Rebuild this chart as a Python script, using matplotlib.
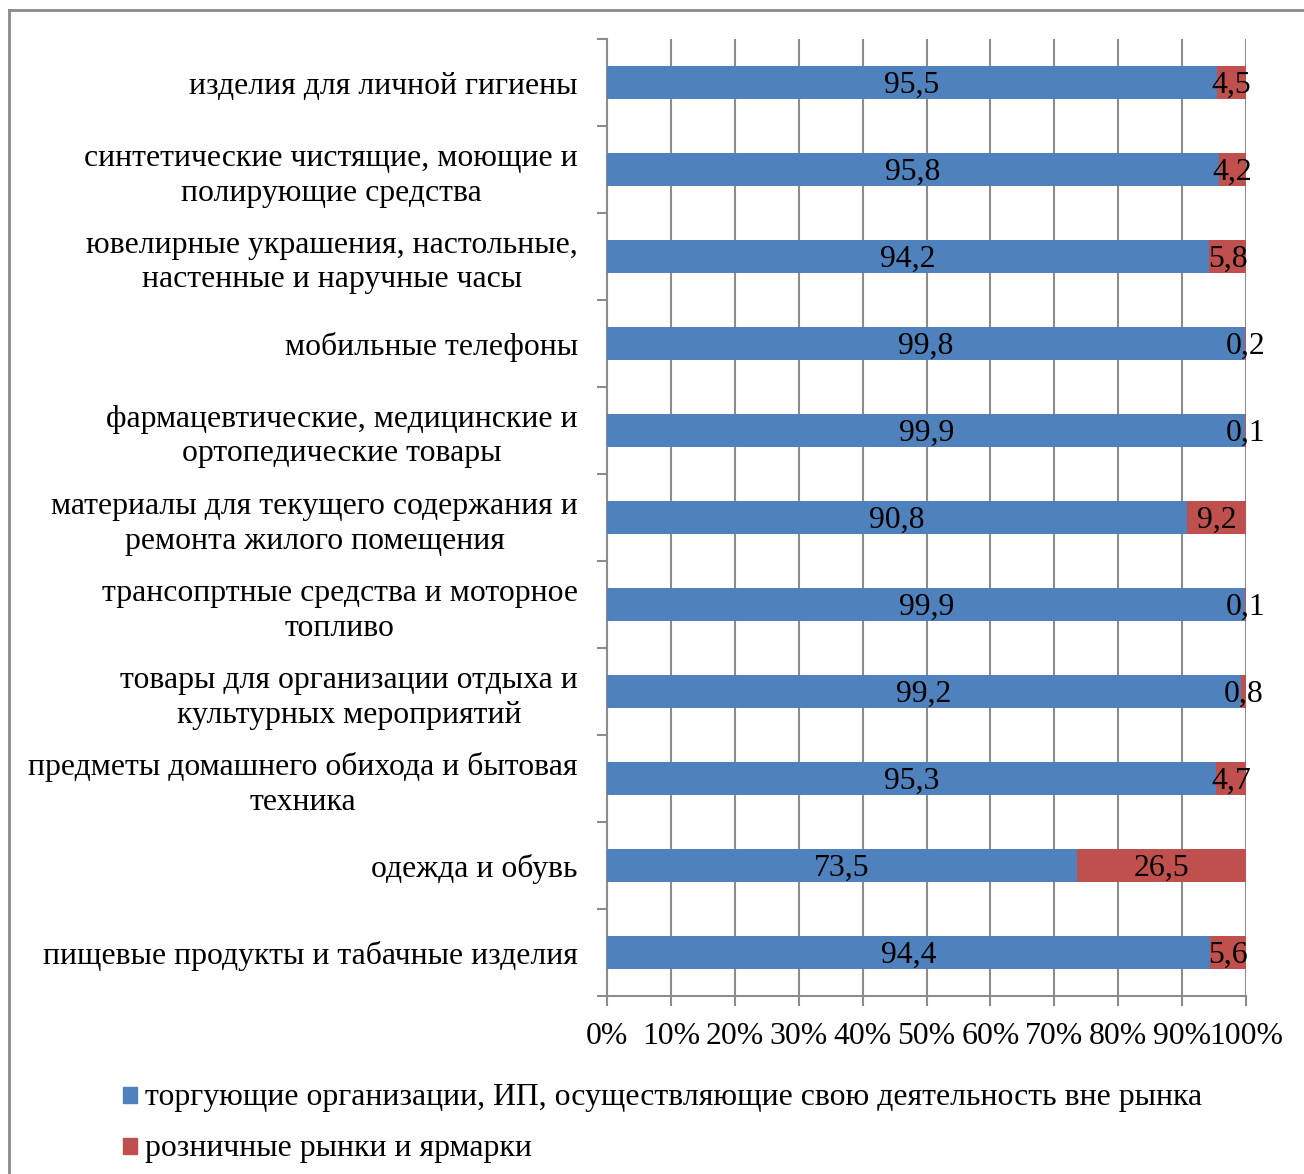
import matplotlib
matplotlib.use("Agg")
import matplotlib.pyplot as plt
from matplotlib.lines import Line2D
from matplotlib.patches import Rectangle
import numpy as np

plt.rcParams['font.family'] = ['Liberation Serif', 'DejaVu Serif']

categories = [
    "изделия для личной гигиены",
    "синтетические чистящие, моющие и\nполирующие средства",
    "ювелирные украшения, настольные,\nнастенные и наручные часы",
    "мобильные телефоны",
    "фармацевтические, медицинские и\nортопедические товары",
    "материалы для текущего содержания и\nремонта жилого помещения",
    "трансопртные средства и моторное\nтопливо",
    "товары для организации отдыха и\nкультурных мероприятий",
    "предметы домашнего обихода и бытовая\nтехника",
    "одежда и обувь",
    "пищевые продукты и табачные изделия",
]
outside_market = [95.5, 95.8, 94.2, 99.8, 99.9, 90.8, 99.9, 99.2, 95.3, 73.5, 94.4]
markets_fairs = [4.5, 4.2, 5.8, 0.2, 0.1, 9.2, 0.1, 0.8, 4.7, 26.5, 5.6]
series_names = [
    "торгующие организации, ИП, осуществляющие свою деятельность вне рынка",
    "розничные рынки и ярмарки",
]
x_ticks = [0, 10, 20, 30, 40, 50, 60, 70, 80, 90, 100]

blue = "#4F81BD"
red = "#C0504D"
grid_c = "#8C8C8C"
fs = 22.9
digit_half = 0.33 * fs  # half the digit height, points

W, H = 1304, 1174
fig = plt.figure(figsize=(W / 100, H / 100), dpi=100)
ax = fig.add_axes([607 / W, 1 - 996 / H, (1246 - 607) / W, (996 - 39) / H])

n = len(categories)
y = np.arange(n)
bh = 0.39
ax.barh(y, outside_market, height=bh, color=blue, zorder=3)
ax.barh(y, markets_fairs, left=outside_market, height=bh, color=red, zorder=3)


def value_label(x, yy, v):
    ax.annotate(f"{v:.1f}".replace(".", ","), (x, yy), xytext=(0, -digit_half),
                textcoords="offset points", ha="center", va="baseline",
                fontsize=fs, zorder=5)


for i in range(n):
    a, b = outside_market[i], markets_fairs[i]
    value_label(a / 2, y[i], a)
    value_label(a + b / 2, y[i], b)

ax.set_xlim(0, 100)
ax.set_ylim(n - 0.5, -0.5)
ax.set_xticks(x_ticks)
ax.set_xticklabels([f"{t}%" for t in x_ticks], fontsize=fs)
ax.xaxis.grid(True, color=grid_c, linewidth=1.5, zorder=0)
ax.set_axisbelow(True)

# category labels on the left, each block centred within itself
ax.set_yticks(y)
ax.set_yticklabels(categories, fontsize=fs, multialignment="center", linespacing=1.25)
ax.tick_params(axis="y", length=0, pad=21)
ax.set_yticks(np.arange(-0.5, n, 1.0), minor=True)
ax.tick_params(axis="y", which="minor", length=7, width=1.5, color=grid_c, direction="out")
ax.tick_params(axis="x", length=7, width=1.5, color=grid_c, direction="out", pad=12)

for s in ["top", "right"]:
    ax.spines[s].set_visible(False)
for s in ["left", "bottom"]:
    ax.spines[s].set_color(grid_c)
    ax.spines[s].set_linewidth(1.5)

# legend drawn as swatches with text
leg_y = [1095, 1146]
for col, name, yy in zip([blue, red], series_names, leg_y):
    fig.patches.append(Rectangle((123 / W, 1 - (yy + 8) / H), 14 / W, 16 / H,
                                 color=col, transform=fig.transFigure, figure=fig))
    fig.text(145 / W, 1 - (yy + 0.33 * fs * 100 / 72) / H, name, fontsize=fs,
             va="baseline", ha="left")

# chart frame
fig.add_artist(Line2D([9 / W, 1], [1 - 10 / H, 1 - 10 / H], color="#8A8A8A",
                      linewidth=2, transform=fig.transFigure))
fig.add_artist(Line2D([9 / W, 9 / W], [0, 1 - 10 / H], color="#8A8A8A",
                      linewidth=2, transform=fig.transFigure))

fig.savefig("out.png", dpi=100)
